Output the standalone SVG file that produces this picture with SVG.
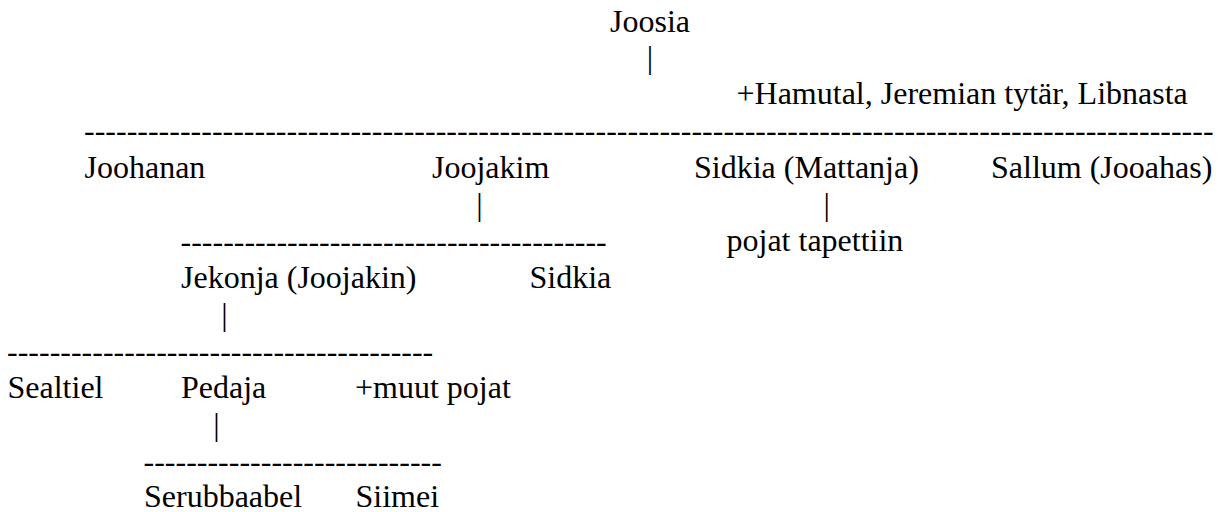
<svg xmlns="http://www.w3.org/2000/svg" width="1221" height="512" viewBox="0 0 1221 512">
<style>
text{font-family:"Liberation Serif","Times New Roman",serif;font-size:32px;fill:#000}
.bar{text-anchor:middle}
</style>
<rect width="1221" height="512" fill="#fff"/>
<g id="connectors">
<text class="bar" x="650" y="68">|</text>
<text class="bar" x="479.5" y="215">|</text>
<text class="bar" x="826.8" y="215">|</text>
<text class="bar" x="224.5" y="325">|</text>
<text class="bar" x="216.5" y="435">|</text>
<text x="84" y="141">----------------------------------------------------------------------------------------------------------</text>
<text x="180.5" y="251.5">----------------------------------------</text>
<text x="7" y="361.5">----------------------------------------</text>
<text x="143.5" y="471.5">----------------------------</text>
</g>
<g id="joosia"><text x="610" y="31.7">Joosia</text></g>
<g id="hamutal"><text x="736.5" y="104">+Hamutal, Jeremian tytär, Libnasta</text></g>
<g id="joohanan"><text x="84.5" y="177.5">Joohanan</text></g>
<g id="joojakim"><text x="432" y="177.5">Joojakim</text></g>
<g id="sidkia-mattanja"><text x="694" y="177.5">Sidkia (Mattanja)</text></g>
<g id="sallum"><text x="991" y="177.5">Sallum (Jooahas)</text></g>
<g id="pojat-tapettiin"><text x="726.5" y="250.5">pojat tapettiin</text></g>
<g id="jekonja"><text x="181" y="288">Jekonja (Joojakin)</text></g>
<g id="sidkia"><text x="529.5" y="288">Sidkia</text></g>
<g id="sealtiel"><text x="7.5" y="398">Sealtiel</text></g>
<g id="pedaja"><text x="181" y="398">Pedaja</text></g>
<g id="muut-pojat"><text x="355" y="398">+muut pojat</text></g>
<g id="serubbaabel"><text x="144" y="507">Serubbaabel</text></g>
<g id="siimei"><text x="355.5" y="507">Siimei</text></g>
</svg>
